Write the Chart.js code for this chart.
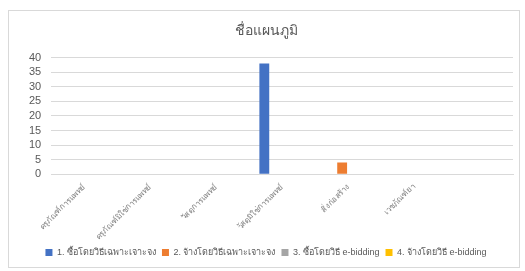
<!DOCTYPE html>
<html>
<head>
<meta charset="utf-8">
<script src="https://cdn.jsdelivr.net/npm/chart.js@4"></script>
<style>
  html, body { margin: 0; padding: 0; background: #fff; }
  #box {
    position: absolute; left: 8px; top: 10px; width: 512px; height: 258px;
    border: 1px solid #d9d9d9; box-sizing: border-box;
  }
  canvas { display: block; }
</style>
</head>
<body>
<div id="box"><canvas id="chart" width="510" height="256"></canvas></div>
<script>
// --- Data ---
const categories = [
  'ครุภัณฑ์การแพทย์',
  'ครุภัณฑ์มิใช่การแพทย์',
  'วัสดุการแพทย์',
  'วัสดุมิใช่การแพทย์',
  'สิ่งก่อสร้าง',
  'เวชภัณฑ์ยา',
  ''
];
const seriesNames = [
  '1. ซื้อโดยวิธีเฉพาะเจาะจง',
  '2. จ้างโดยวิธีเฉพาะเจาะจง',
  '3. ซื้อโดยวิธี e-bidding',
  '4. จ้างโดยวิธี e-bidding'
];
const buySpecific = [null, null, null, 38, null, null, null];
const hireSpecific = [null, null, null, null, 4, null, null];
const buyEbidding = [null, null, null, null, null, null, null];
const hireEbidding = [null, null, null, null, null, null, null];
const yTicks = [0, 5, 10, 15, 20, 25, 30, 35, 40];

const colors = ['#4472C4', '#ED7D31', '#A5A5A5', '#FFC000'];
const seriesData = [buySpecific, hireSpecific, buyEbidding, hireEbidding];

const ctx = document.getElementById('chart').getContext('2d');
new Chart(ctx, {
    type: 'bar',
    data: {
        labels: categories,
        datasets: seriesData.map((d, i) => ({
            label: seriesNames[i],
            data: d,
            backgroundColor: colors[i],
            borderWidth: 0,
            categoryPercentage: 0.72,
            barPercentage: 0.83
        }))
    },
    options: {
        responsive: false,
        animation: false,
        layout: { padding: { left: 10, right: 6, top: 2, bottom: 0 } },
        plugins: {
            title: {
                display: true,
                text: 'ชื่อแผนภูมิ',
                color: '#595959',
                font: { size: 14, family: 'sans-serif', weight: 'normal' },
                padding: { top: 10, bottom: 18 }
            },
            legend: {
                position: 'bottom',
                labels: {
                    boxWidth: 7,
                    boxHeight: 7,
                    padding: 6,
                    color: '#595959',
                    font: { size: 9, family: 'sans-serif' }
                }
            },
            tooltip: { enabled: false }
        },
        scales: {
            x: {
                grid: { display: false },
                border: { color: '#d9d9d9' },
                ticks: {
                    color: '#7f7f7f',
                    font: { size: 8 },
                    padding: 0,
                    maxRotation: 45,
                    minRotation: 45,
                    autoSkip: false
                }
            },
            y: {
                min: 0,
                max: 40,
                afterBuildTicks: axis => { axis.ticks = yTicks.map(v => ({ value: v })); },
                grid: { color: '#d9d9d9', drawTicks: false },
                border: { display: false },
                ticks: { color: '#595959', font: { size: 11 }, padding: 10, autoSkip: false }
            }
        }
    }
});
</script>
</body>
</html>
